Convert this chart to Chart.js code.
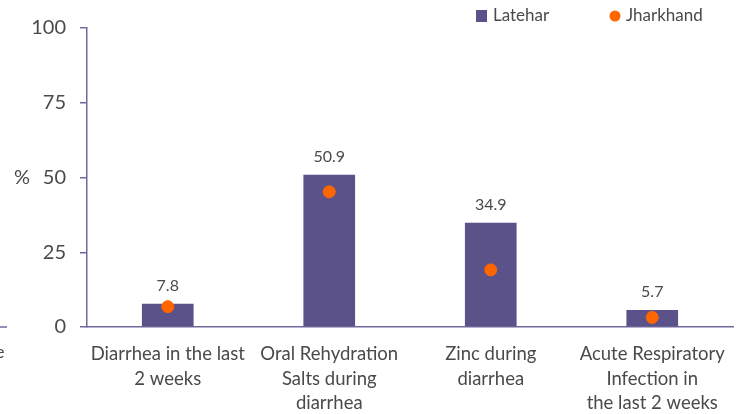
<!DOCTYPE html>
<html>
<head>
<meta charset="utf-8">
<script src="https://cdn.jsdelivr.net/npm/chart.js@4"></script>
<style>
  html, body { margin: 0; padding: 0; background: #fff; }
  #wrap { width: 744px; height: 414px; }
</style>
</head>
<body>
<div id="wrap"><canvas id="chart" width="744" height="414"></canvas></div>
<script>
const categories = [
  ['Diarrhea in the last', '2 weeks'],
  ['Oral Rehydration', 'Salts during', 'diarrhea'],
  ['Zinc during', 'diarrhea'],
  ['Acute Respiratory', 'Infection in', 'the last 2 weeks']
]
const latehar = [7.8, 50.9, 34.9, 5.7]
const jharkhand = [6.8, 45.2, 19.1, 3.2]
const yTicks = [0, 25, 50, 75, 100]

const COLORS = {
  bar: '#5B5289',
  dot: '#FF6600',
  axis: '#6F6A9E',
  text: '#4A4A4A',
}
const FONT = "Lato, 'Open Sans', sans-serif"

const overlay = {
  id: 'overlay',
  afterDatasetsDraw(chart) {
    const ctx = chart.ctx
    const barMeta = chart.getDatasetMeta(0)
    ctx.save()
    ctx.fillStyle = COLORS.text
    ctx.font = '16px ' + FONT
    ctx.textAlign = 'center'
    ctx.textBaseline = 'bottom'
    barMeta.data.forEach((bar, i) => {
      ctx.fillText(latehar[i].toFixed(1), bar.x, bar.y - 10)
    })
    ctx.restore()
  },
  afterDraw(chart) {
    const ctx = chart.ctx
    const y = chart.scales.y
    ctx.save()
    ctx.fillStyle = COLORS.text
    ctx.font = '20px ' + FONT
    ctx.textBaseline = 'middle'
    ctx.textAlign = 'left'
    ctx.fillText('%', 14, y.getPixelForValue(50))
    // legend
    ctx.font = '17px ' + FONT
    ctx.fillStyle = chart.data.datasets[0].backgroundColor
    ctx.fillRect(476, 10, 11, 12)
    ctx.fillStyle = COLORS.text
    ctx.fillText(chart.data.datasets[0].label, 493, 16)
    ctx.fillStyle = chart.data.datasets[1].backgroundColor
    ctx.beginPath()
    ctx.arc(615, 16, 5.5, 0, Math.PI * 2)
    ctx.fill()
    ctx.fillStyle = COLORS.text
    ctx.fillText(chart.data.datasets[1].label, 626, 16)
    // fragment of neighbouring chart at left edge
    ctx.strokeStyle = COLORS.axis
    ctx.lineWidth = 1.5
    ctx.beginPath()
    ctx.moveTo(0, y.getPixelForValue(0))
    ctx.lineTo(7, y.getPixelForValue(0))
    ctx.stroke()
    ctx.font = '18px ' + FONT
    ctx.fillText('e', -5, 352)
    ctx.restore()
  }
}

new Chart(document.getElementById('chart'), {
  type: 'bar',
  data: {
    labels: categories,
    datasets: [
      {
        label: 'Latehar',
        data: latehar,
        backgroundColor: COLORS.bar,
        barPercentage: 0.32,
        categoryPercentage: 1,
        order: 1,
      },
      {
        type: 'scatter',
        label: 'Jharkhand',
        data: jharkhand,
        backgroundColor: COLORS.dot,
        borderColor: COLORS.dot,
        pointRadius: 6,
        pointHoverRadius: 6,
        showLine: false,
        order: 0,
      },
    ]
  },
  options: {
    responsive: false,
    animation: false,
    layout: { padding: { top: 28, right: 11, left: 0, bottom: 0 } },
    plugins: { legend: { display: false }, tooltip: { enabled: false } },
    scales: {
      x: {
        type: 'category',
        grid: { display: false, drawTicks: false },
        border: { color: COLORS.axis, width: 1.5 },
        ticks: {
          color: COLORS.text,
          font: { family: FONT, size: 18.5, lineHeight: 1.32 },
          padding: 15,
          maxRotation: 0,
          autoSkip: false,
        },
        afterFit(scale) { scale.height = 87 },
      },
      y: {
        min: 0,
        max: 100,
        afterBuildTicks(scale) { scale.ticks = yTicks.map(v => ({ value: v })) },
        grid: { drawOnChartArea: false, drawTicks: true, tickLength: 7, color: COLORS.axis, lineWidth: 1.5 },
        border: { color: COLORS.axis, width: 1.5 },
        ticks: {
          color: COLORS.text,
          font: { family: FONT, size: 20 },
          padding: 14,
        },
        afterFit(scale) { scale.width = 87 },
      },
    },
  },
  plugins: [overlay],
})
</script>
</body>
</html>
